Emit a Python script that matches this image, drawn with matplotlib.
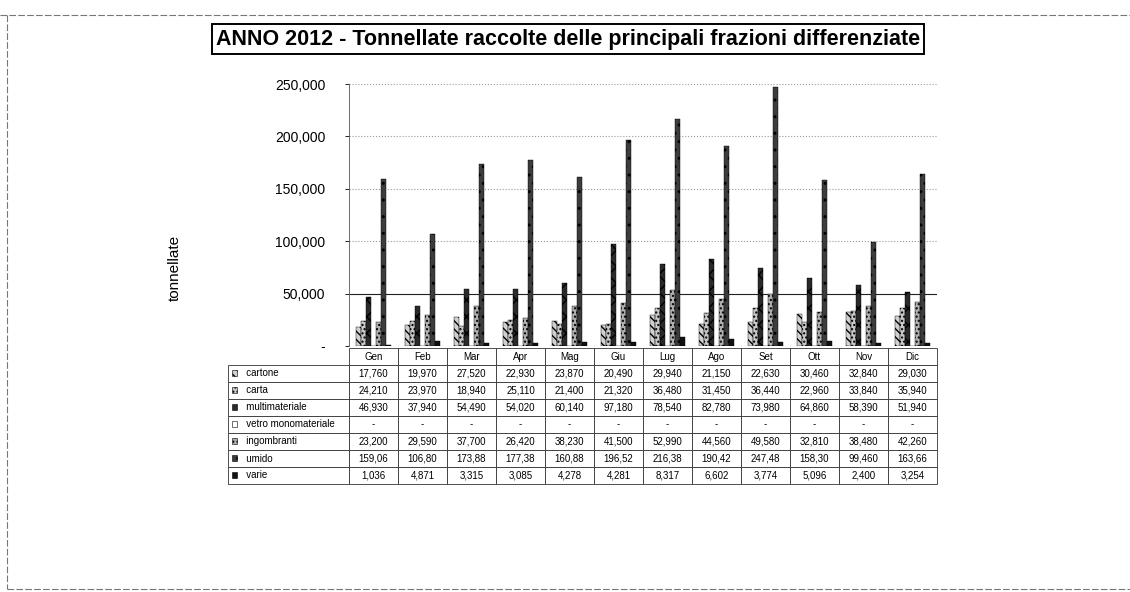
import matplotlib
matplotlib.use("Agg")
import matplotlib.pyplot as plt
from matplotlib.patches import Rectangle
from matplotlib.lines import Line2D
import numpy as np

plt.rcParams['font.family'] = ['Liberation Sans', 'DejaVu Sans']

mesi = ["Gen", "Feb", "Mar", "Apr", "Mag", "Giu", "Lug", "Ago", "Set", "Ott", "Nov", "Dic"]
serie = ["cartone", "carta", "multimateriale", "vetro monomateriale", "ingombranti", "umido", "varie"]

cartone = [17760, 19970, 27520, 22930, 23870, 20490, 29940, 21150, 22630, 30460, 32840, 29030]
carta = [24210, 23970, 18940, 25110, 21400, 21320, 36480, 31450, 36440, 22960, 33840, 35940]
multimateriale = [46930, 37940, 54490, 54020, 60140, 97180, 78540, 82780, 73980, 64860, 58390, 51940]
vetro = [0] * 12
ingombranti = [23200, 29590, 37700, 26420, 38230, 41500, 52990, 44560, 49580, 32810, 38480, 42260]
umido = [159060, 106800, 173880, 177380, 160880, 196520, 216380, 190420, 247480, 158300, 99460, 163660]
varie = [1036, 4871, 3315, 3085, 4278, 4281, 8317, 6602, 3774, 5096, 2400, 3254]
valori = [cartone, carta, multimateriale, vetro, ingombranti, umido, varie]

# grayscale look of the scanned page
facce = ["#d0d0d0", "#c8c8c8", "#2a2a2a", "#ffffff", "#b0b0b0", "#3c3c3c", "#111111"]
tratti = ["\\\\\\\\", "....", "xx", None, "....", "..", None]

fig = plt.figure(figsize=(11.3, 5.92), dpi=100)
ax = fig.add_axes([349 / 1130, 1 - 346 / 592, 588 / 1130, 262 / 592])

x = np.arange(len(mesi))
w = 0.1
for k, (vals, fc, h) in enumerate(zip(valori, facce, tratti)):
    ax.bar(x + (k - 3) * w, vals, width=w, color=fc, hatch=h,
           edgecolor="black", linewidth=0.3, zorder=3)

ax.set_xlim(-0.5, len(mesi) - 0.5)
ax.set_ylim(0, 250000)
ax.set_yticks([0, 50000, 100000, 150000, 200000, 250000])
ax.set_yticklabels(["-", "50,000", "100,000", "150,000", "200,000", "250,000"], fontsize=10)
ax.set_xticks([])
ax.tick_params(axis="y", length=3, width=0.6, pad=14)
ax.yaxis.grid(True, linestyle=":", color="#999999", linewidth=0.8, zorder=0)
gl = ax.get_ygridlines()
gl[1].set_linestyle("-")
gl[1].set_color("#222222")
for s in ["top", "right", "bottom"]:
    ax.spines[s].set_visible(False)
ax.spines["left"].set_linewidth(0.6)
ax.spines["left"].set_color("#555555")
ax.set_ylabel("tonnellate", fontsize=11)
ax.yaxis.set_label_coords((182 - 349) / 588, (346 - 268) / 262)

# data table under the plot
def fmt(v, n=None):
    if v == 0:
        return "-"
    s = f"{v:,}"
    return s[:n] if n else s

righe = []
for nome, vals in zip(serie, valori):
    n = 6 if nome == "umido" else None
    righe.append([nome] + [fmt(v, n) for v in vals])

lab_w = (349 - 228) / 588
tb_top = -2 / 262
tb_bot = -(484 - 346) / 262
tab = ax.table(cellText=righe, colLabels=[""] + mesi,
               colWidths=[lab_w] + [1 / 12] * 12,
               bbox=[-lab_w, tb_bot, 1 + lab_w, tb_top - tb_bot],
               cellLoc="center")
tab.auto_set_font_size(False)
tab.set_fontsize(7)
for (r, c), cell in tab.get_celld().items():
    cell.set_linewidth(0.6)
    cell.set_edgecolor("#333333")
    if r == 0 and c == 0:
        cell.visible_edges = ""
    if c == 0 and r > 0:
        cell.get_text().set_ha("left")
        cell.PAD = 0.08
        cell.get_text().set_text("   " + cell.get_text().get_text())

# small legend keys in the label column
nrow = len(serie) + 1
rh = (tb_top - tb_bot) / nrow
for k in range(len(serie)):
    yc = tb_top - (k + 1.5) * rh
    ax.add_patch(Rectangle((-lab_w + 0.006, yc - 0.008), 0.009, 0.02,
                           transform=ax.transAxes, clip_on=False,
                           facecolor=facce[k], hatch=tratti[k],
                           edgecolor="black", linewidth=0.4))

fig.text(568 / 1130, 1 - 39 / 592,
         "ANNO 2012 - Tonnellate raccolte delle principali frazioni differenziate",
         ha="center", va="center", fontsize=15.5, fontweight="bold",
         bbox=dict(boxstyle="square,pad=0.2", facecolor="white",
                   edgecolor="black", linewidth=1.4))

# page border of the scan
for (x0, y0, x1, y1) in [(0, 15, 1130, 15), (7, 15, 7, 589), (7, 589, 1130, 589)]:
    fig.add_artist(Line2D([x0 / 1130, x1 / 1130], [1 - y0 / 592, 1 - y1 / 592],
                          color="#777777", linewidth=0.8, linestyle=(0, (6, 2))))

fig.savefig("out.png", dpi=100)
